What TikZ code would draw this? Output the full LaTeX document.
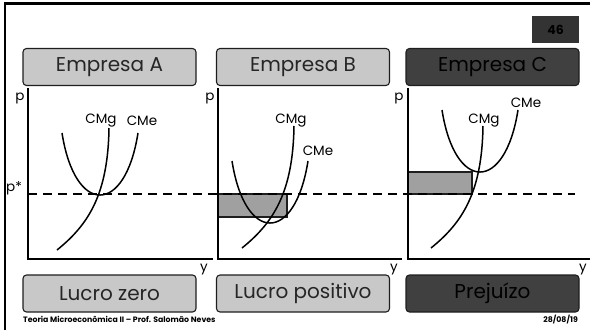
\documentclass[tikz,border=0pt]{standalone}
\usepackage{fontspec}
\setmainfont{Poppins}
\definecolor{lightbox}{HTML}{C8C8C8}
\definecolor{darkbox}{HTML}{404040}
\definecolor{rectfill}{HTML}{A0A0A0}
\definecolor{boxline}{HTML}{1E1E1E}
\begin{document}
\begin{tikzpicture}[x=1pt,y=-1pt,
  titlebox/.style={draw=boxline,line width=1.1pt,rounded corners=3.5pt,minimum width=173pt,minimum height=37pt,inner sep=0pt,font=\fontsize{20}{20}\selectfont},
  lightfill/.style={fill=lightbox,text=black!85},
  darkfill/.style={fill=darkbox,text=black},
  axis/.style={line width=1.6pt},
  curve/.style={line width=1.5pt},
  dash line/.style={line width=1.6pt,dash pattern=on 9pt off 6pt},
  profit/.style={draw=boxline,line width=1.1pt,fill=rectfill},
  lab/.style={font=\fontsize{13.5}{13.5}\selectfont,inner sep=0pt},
  foot/.style={font=\bfseries\fontsize{7.8}{7.8}\selectfont,inner sep=0pt}]
\useasboundingbox (0,0) rectangle (590,330);
% slide frame
\draw[line width=2.6pt] (5,330) -- (5,3.5) -- (590,3.5);
% page number
\node[fill=black!80,minimum width=47pt,minimum height=27pt,inner sep=0pt,font=\bfseries\fontsize{12.5}{12.5}\selectfont] (num) at (555.5,29.5) {46};
% title boxes
\node[titlebox,lightfill] (ta) at (109.5,67) {Empresa A};
\node[titlebox,lightfill] (tb) at (303,67) {Empresa B};
\node[titlebox,darkfill] (tc) at (492.5,67) {Empresa C};
\node[titlebox,lightfill] (ba) at (109.5,293.5) {Lucro zero};
\node[titlebox,lightfill] (bb) at (303,293.5) {Lucro positivo};
\node[titlebox,darkfill] (bc) at (492.5,293.5) {Prejuízo};
% profit rectangles (under curves)
\draw[profit] (218,194) rectangle (287,217);
\draw[profit] (408,172) rectangle (472,194);
% axes
\coordinate (oa) at (28,259); \coordinate (ya) at (28,88); \coordinate (xa) at (213,259);
\coordinate (ob) at (218,259); \coordinate (yb) at (218,88); \coordinate (xb) at (402,259);
\coordinate (oc) at (408,259); \coordinate (yc) at (408,88); \coordinate (xc) at (590,259);
\draw[axis] (ya) -- (oa) -- (xa);
\draw[axis] (yb) -- (ob) -- (xb);
\draw[axis] (yc) -- (oc) -- (xc);
% dashed price line
\coordinate (ds) at (28,194); \coordinate (de) at (575,194);
\draw[dash line] (ds) -- (de);
% axis labels
\node[lab] (pa) at (20,98) {p};
\node[lab] (pb) at (210,98) {p};
\node[lab] (pc) at (399,98) {p};
\node[lab] (ps) at (14,188) {p*};
\node[lab] (yla) at (204,270) {y};
\node[lab] (ylb) at (394,270) {y};
\node[lab] (ylc) at (583,270) {y};
% curves A
\draw[curve] (62,133) .. controls (75,215.7) and (125,215.7) .. (138,133);
\draw[curve] (57,250) .. controls (88,225) and (108,195) .. (109,128);
\node[lab] (cmga) at (101,121) {CMg};
\node[lab] (cmea) at (142,121) {CMe};
% curves B
\draw[curve] (232,161) .. controls (245,243.7) and (295,243.7) .. (308,161);
\draw[curve] (242,248) .. controls (273,223) and (293,193) .. (294,126);
\node[lab] (cmgb) at (291,121) {CMg};
\node[lab] (cmeb) at (318,151) {CMe};
% curves C
\draw[curve] (442,110) .. controls (455,192.7) and (505,192.7) .. (518,110);
\draw[curve] (431,248) .. controls (462,223) and (482,193) .. (483,126);
\node[lab] (cmgc) at (484,121) {CMg};
\node[lab] (cmec) at (526,103) {CMe};
% footer
\node[foot,anchor=west] (ft) at (23,319.5) {Teoria Microeconômica II – Prof. Salomão Neves};
\node[foot,anchor=east] (dt) at (578,319.5) {28/08/19};
\end{tikzpicture}
\end{document}
